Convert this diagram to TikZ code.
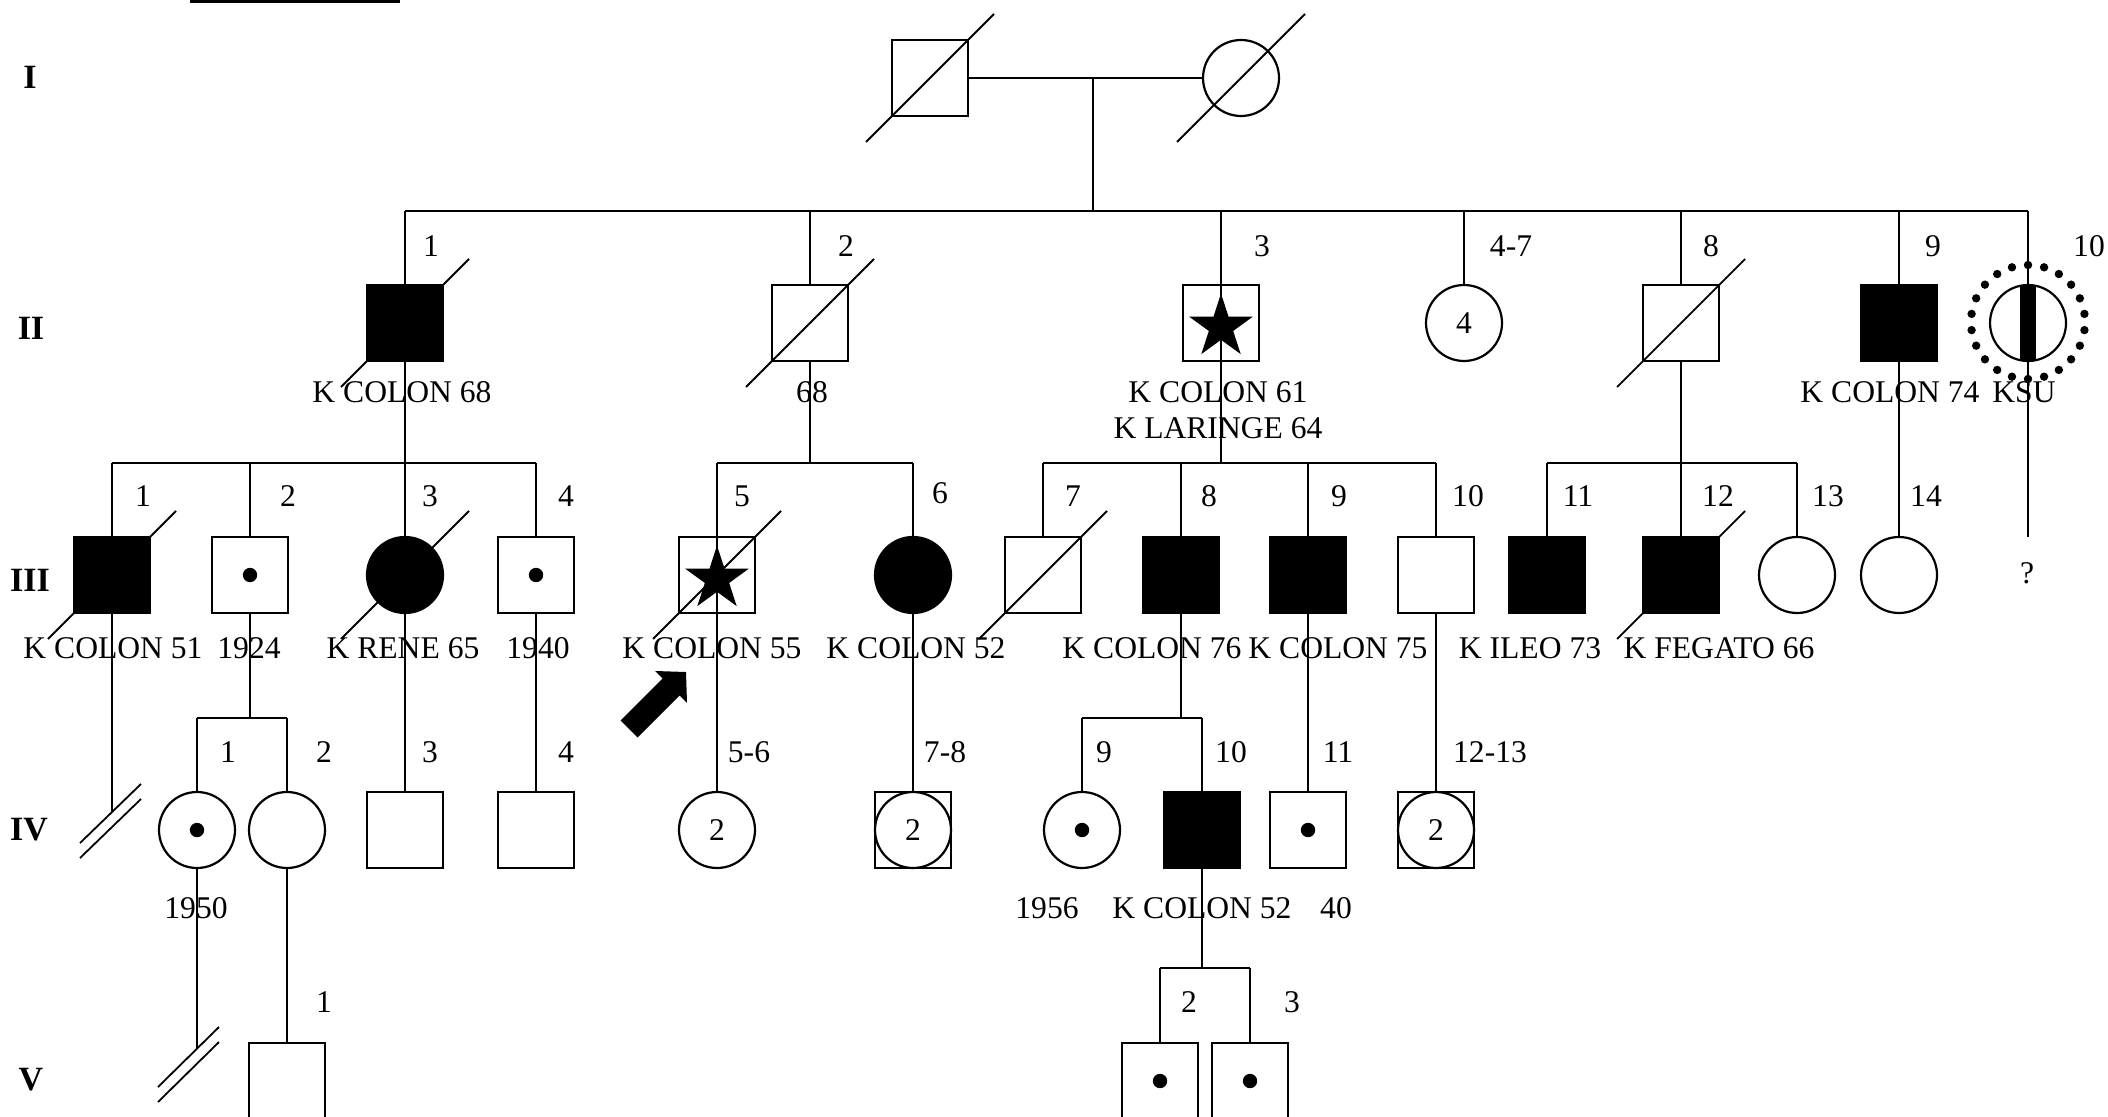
\documentclass[tikz,border=0pt]{standalone}
\usepackage{fontspec}
\setmainfont{Liberation Serif}
\usetikzlibrary{calc,shapes.geometric}
\begin{document}
\begin{tikzpicture}[x=0.5pt,y=-0.5pt,
  every node/.style={font=\fontsize{15.8}{18}\selectfont},
  ind/.style={draw,line width=1.1pt,minimum size=38pt,inner sep=0pt,outer sep=0pt,fill=white},
  male/.style={ind,rectangle},
  female/.style={ind,circle},
  aff/.style={fill=black},
  lbl/.style={inner sep=0pt},
  rom/.style={inner sep=0pt,font=\fontsize{17}{20}\selectfont\bfseries},
  ln/.style={line width=0.9pt},
  starmark/.style={star,star points=5,star point ratio=2.618,fill=black,inner sep=0pt,minimum size=33.5pt}
]
\useasboundingbox (0,0) rectangle (2108,1117);
\fill (190,0) rectangle (400,3.5);

% generation numerals
\node[rom] (gI) at (30,77) {I};
\node[rom] (gII) at (31,328) {II};
\node[rom] (gIII) at (30,580) {III};
\node[rom] (gIV) at (29,830) {IV};
\node[rom] (gV) at (31,1080) {V};

% horizontal levels
\coordinate (hII) at (1093,211);
\coordinate (hIII) at (0,463);
\coordinate (hIV) at (0,718);
\coordinate (hV) at (0,968);
\coordinate (tIII) at (0,537);

% ---------------- Generation I
\node[male] (I1) at (930,78) {};
\node[female] (I2) at (1241,78) {};
\coordinate (mI) at (1093,78);
\draw[ln] (I1) -- (I2);
\draw[ln] (mI) -- (hII);
\draw[ln] ($(I1)+(-64,64)$) -- ($(I1)+(64,-64)$);
\draw[ln] ($(I2)+(-64,64)$) -- ($(I2)+(64,-64)$);

% ---------------- Generation II
\node[male,aff] (II1) at (405,323) {};
\node[male] (II2) at (810,323) {};
\node[male,fill=none] (II3) at (1221,323) {};
\node[starmark] (II3s) at (1221,327) {};
\node[female] (II4) at (1464,323) {4};
\node[male] (II8) at (1681,323) {};
\node[male,aff] (II9) at (1899,323) {};
\node[female] (II10) at (2028,323) {};

\draw[ln] (II1 |- hII) -- (II10 |- hII);
\draw[ln] (II1 |- hII) -- (II1);
\draw[ln] (II2 |- hII) -- (II2);
\draw[ln] (II3 |- hII) -- (II3.north) -- (II3.south) -- (II3 |- hIII);
\draw[ln] (II4 |- hII) -- (II4);
\draw[ln] (II8 |- hII) -- (II8);
\draw[ln] (II9 |- hII) -- (II9);
\draw[ln] (II10 |- hII) -- (II10.north);
\draw[ln] (II10.south) -- (II10 |- tIII);
\fill ($(II10.north)+(-8,1)$) rectangle ($(II10.south)+(8,-1)$);
\foreach \k in {0,...,21} \fill ($(II10)+(0,-1)+({90+\k*360/22}:57)$) circle (2.1pt);

\draw[ln] ($(II1)+(-64,64)$) -- ($(II1)+(64,-64)$);
\draw[ln] ($(II2)+(-64,64)$) -- ($(II2)+(64,-64)$);
\draw[ln] ($(II8)+(-64,64)$) -- ($(II8)+(64,-64)$);

\node[lbl] (nII1) at (431,246) {1};
\node[lbl] (nII2) at (846,246) {2};
\node[lbl] (nII3) at (1262,246) {3};
\node[lbl] (nII4) at (1511,246) {4-7};
\node[lbl] (nII8) at (1711,246) {8};
\node[lbl] (nII9) at (1933,246) {9};
\node[lbl] (nII10) at (2089,246) {10};

\node[lbl] (tII1) at (402,392) {K COLON 68};
\node[lbl] (tII2) at (812,392) {68};
\node[lbl] (tII3a) at (1218,392) {K COLON 61};
\node[lbl] (tII3b) at (1218,428) {K LARINGE 64};
\node[lbl] (tII9) at (1890,392) {K COLON 74};
\node[lbl] (tII10) at (2024,392) {KSU};
\node[lbl] (qII10) at (2027,573) {?};

% ---------------- Generation III
\node[male,aff] (III1) at (112,575) {};
\node[male] (III2) at (250,575) {};
\node[female,aff] (III3) at (405,575) {};
\node[male] (III4) at (536,575) {};
\node[male,fill=none] (III5) at (717,575) {};
\node[starmark] (III5s) at (717,579) {};
\node[female,aff] (III6) at (913,575) {};
\node[male] (III7) at (1043,575) {};
\node[male,aff] (III8) at (1181,575) {};
\node[male,aff] (III9) at (1308,575) {};
\node[male] (III10) at (1436,575) {};
\node[male,aff] (III11) at (1547,575) {};
\node[male,aff] (III12) at (1681,575) {};
\node[female] (III13) at (1797,575) {};
\node[female] (III14) at (1899,575) {};
\fill (III2) circle (3.6pt);
\fill (III4) circle (3.6pt);

% family of II-1
\draw[ln] (II1) -- (II1 |- hIII);
\draw[ln] (III1 |- hIII) -- (III4 |- hIII);
\draw[ln] (III1 |- hIII) -- (III1);
\draw[ln] (III2 |- hIII) -- (III2);
\draw[ln] (III3 |- hIII) -- (III3);
\draw[ln] (III4 |- hIII) -- (III4);
% family of II-2
\draw[ln] (II2) -- (II2 |- hIII);
\draw[ln] (III5 |- hIII) -- (III6 |- hIII);
\draw[ln] (III6 |- hIII) -- (III6);
% family of II-3
\draw[ln] (III7 |- hIII) -- (III10 |- hIII);
\draw[ln] (III7 |- hIII) -- (III7);
\draw[ln] (III8 |- hIII) -- (III8);
\draw[ln] (III9 |- hIII) -- (III9);
\draw[ln] (III10 |- hIII) -- (III10);
% family of II-8
\draw[ln] (II8) -- (II8 |- hIII);
\draw[ln] (III11 |- hIII) -- (III13 |- hIII);
\draw[ln] (III11 |- hIII) -- (III11);
\draw[ln] (III12 |- hIII) -- (III12);
\draw[ln] (III13 |- hIII) -- (III13);
% II-9
\draw[ln] (II9) -- (III14);

\draw[ln] ($(III1)+(-64,64)$) -- ($(III1)+(64,-64)$);
\draw[ln] ($(III3)+(-64,64)$) -- ($(III3)+(64,-64)$);
\draw[ln] ($(III5)+(-64,64)$) -- ($(III5)+(64,-64)$);
\draw[ln] ($(III7)+(-64,64)$) -- ($(III7)+(64,-64)$);
\draw[ln] ($(III12)+(-64,64)$) -- ($(III12)+(64,-64)$);

\node[lbl] (nIII1) at (143,496) {1};
\node[lbl] (nIII2) at (288,496) {2};
\node[lbl] (nIII3) at (430,496) {3};
\node[lbl] (nIII4) at (566,496) {4};
\node[lbl] (nIII5) at (742,496) {5};
\node[lbl] (nIII6) at (940,493) {6};
\node[lbl] (nIII7) at (1073,496) {7};
\node[lbl] (nIII8) at (1209,496) {8};
\node[lbl] (nIII9) at (1339,496) {9};
\node[lbl] (nIII10) at (1468,496) {10};
\node[lbl] (nIII11) at (1578,496) {11};
\node[lbl] (nIII12) at (1718,496) {12};
\node[lbl] (nIII13) at (1828,496) {13};
\node[lbl] (nIII14) at (1926,496) {14};

\node[lbl] (tIII1) at (113,648) {K COLON 51};
\node[lbl] (tIII2) at (249,648) {1924};
\node[lbl] (tIII3) at (403,648) {K RENE 65};
\node[lbl] (tIII4) at (538,648) {1940};
\node[lbl] (tIII5) at (712,648) {K COLON 55};
\node[lbl] (tIII6) at (916,648) {K COLON 52};
\node[lbl] (tIII8) at (1152,648) {K COLON 76};
\node[lbl] (tIII9) at (1338,648) {K COLON 75};
\node[lbl] (tIII11) at (1530,648) {K ILEO 73};
\node[lbl] (tIII12) at (1719,648) {K FEGATO 66};

% proband arrow
\fill (686,672) -- (687,703) -- (679.5,695.5) -- (637.5,737.5) -- (620.5,720.5) -- (662.5,678.5) -- (655,671) -- cycle;

% ---------------- Generation IV
\node[female] (IV1) at (197,830) {};
\node[female] (IV2) at (287,830) {};
\node[male] (IV3) at (405,830) {};
\node[male] (IV4) at (536,830) {};
\node[female] (IV56) at (717,830) {2};
\node[male] (IV78) at (913,830) {};
\node[female,fill=none] (IV78c) at (913,830) {2};
\node[female] (IV9) at (1082,830) {};
\node[male,aff] (IV10) at (1202,830) {};
\node[male] (IV11) at (1308,830) {};
\node[male] (IV1213) at (1436,830) {};
\node[female,fill=none] (IV1213c) at (1436,830) {2};
\fill (IV1) circle (3.6pt);
\fill (IV9) circle (3.6pt);
\fill (IV11) circle (3.6pt);

\coordinate (dsA) at (112,812);
\draw[ln] (III1) -- (dsA);
\draw[ln] ($(dsA)+(-32,31)$) -- ($(dsA)+(29,-28)$);
\draw[ln] ($(dsA)+(-32,46)$) -- ($(dsA)+(29,-13)$);

\draw[ln] (III2) -- (III2 |- hIV);
\draw[ln] (IV1 |- hIV) -- (IV2 |- hIV);
\draw[ln] (IV1 |- hIV) -- (IV1);
\draw[ln] (IV2 |- hIV) -- (IV2);
\draw[ln] (III3) -- (IV3);
\draw[ln] (III4) -- (IV4);
\draw[ln] (III5 |- hIII) -- (III5.north) -- (III5.south) -- (IV56);
\draw[ln] (III6) -- (IV78);
\draw[ln] (III8) -- (III8 |- hIV);
\draw[ln] (IV9 |- hIV) -- (IV10 |- hIV);
\draw[ln] (IV9 |- hIV) -- (IV9);
\draw[ln] (IV10 |- hIV) -- (IV10);
\draw[ln] (III9) -- (IV11);
\draw[ln] (III10) -- (IV1213);

\node[lbl] (nIV1) at (228,752) {1};
\node[lbl] (nIV2) at (324,752) {2};
\node[lbl] (nIV3) at (430,752) {3};
\node[lbl] (nIV4) at (566,752) {4};
\node[lbl] (nIV5) at (749,752) {5-6};
\node[lbl] (nIV7) at (945,752) {7-8};
\node[lbl] (nIV9) at (1104,752) {9};
\node[lbl] (nIV10) at (1231,752) {10};
\node[lbl] (nIV11) at (1338,752) {11};
\node[lbl] (nIV12) at (1490,752) {12-13};

\node[lbl] (tIV1) at (196,908) {1950};
\node[lbl] (tIV9) at (1047,908) {1956};
\node[lbl] (tIV10) at (1202,908) {K COLON 52};
\node[lbl] (tIV11) at (1336,908) {40};

% ---------------- Generation V
\node[male] (V1) at (287,1081) {};
\node[male] (V2) at (1160,1081) {};
\node[male] (V3) at (1250,1081) {};
\fill (V2) circle (3.6pt);
\fill (V3) circle (3.6pt);

\coordinate (dsB) at (197,1049);
\draw[ln] (IV1) -- (dsB);
\draw[ln] ($(dsB)+(-39,38)$) -- ($(dsB)+(22,-22)$);
\draw[ln] ($(dsB)+(-39,53)$) -- ($(dsB)+(22,-7)$);

\draw[ln] (IV2) -- (V1);
\draw[ln] (IV10) -- (IV10 |- hV);
\draw[ln] (V2 |- hV) -- (V3 |- hV);
\draw[ln] (V2 |- hV) -- (V2);
\draw[ln] (V3 |- hV) -- (V3);

\node[lbl] (nV1) at (324,1002) {1};
\node[lbl] (nV2) at (1189,1002) {2};
\node[lbl] (nV3) at (1292,1002) {3};
\end{tikzpicture}
\end{document}
